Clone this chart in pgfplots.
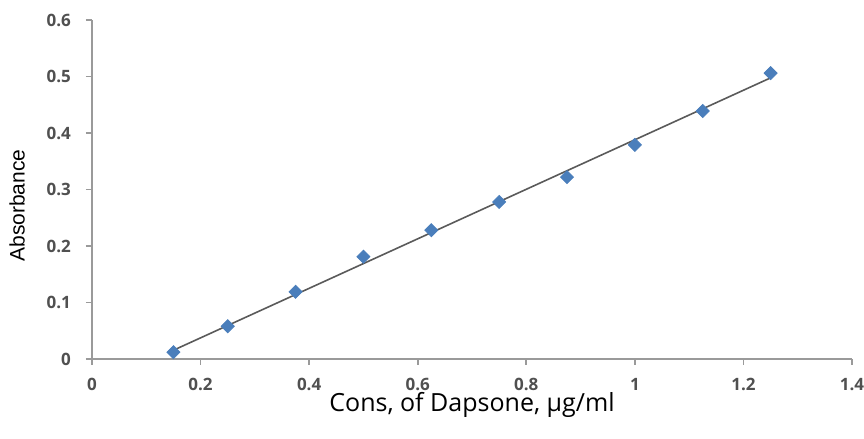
\documentclass[border=0pt]{standalone}
\usepackage{fontspec}
\setmainfont{Open Sans}
\newfontfamily\arialfont{Liberation Sans}
\usepackage{pgfplots}
\pgfplotsset{compat=1.18}

\definecolor{markblue}{HTML}{4A7EBB}
\definecolor{trendgray}{HTML}{5A5A5A}
\definecolor{axgray}{HTML}{9A9A9A}
\definecolor{labgray}{HTML}{505050}

\begin{document}
\begin{tikzpicture}
    % frame the page like the 864x439 reference (1px = 0.5pt)
    \path[use as bounding box] (-46pt,-40pt) rectangle (386pt,179.5pt);
    \begin{axis}[
        at={(0,0)}, anchor=south west,
        scale only axis,
        width=380pt,
        height=169.5pt,
        xmin=0, xmax=1.4,
        ymin=0, ymax=0.6,
        xtick={0,0.2,...,1.4},
        ytick={0,0.1,...,0.6},
        axis x line=bottom,
        axis y line=left,
        axis line style={-, axgray, line width=0.9pt},
        tick style={axgray, line width=0.9pt},
        tick align=outside,
        major tick length=3pt,
        tick label style={font=\fontsize{8.5}{9}\selectfont\bfseries, text=labgray},
        /pgf/number format/assume math mode=true,
        /pgf/number format/fixed,
        xticklabel style={yshift=-3pt},
        yticklabel style={xshift=-4pt},
        xlabel={Cons, of Dapsone, µg/ml},
        xlabel style={font=\fontsize{12.5}{14}\selectfont, yshift=6pt},
        ylabel={\arialfont Absorbance},
        ylabel style={font=\fontsize{10.5}{12}\selectfont, yshift=4pt, xshift=-8pt},
        clip=false,
    ]

    % trend line (least squares fit)
    \addplot[trendgray, line width=0.8pt] coordinates {
        (0.15,0.0155)
        (1.25,0.4976)
    };

    % measured points
    \addplot[only marks, mark=square*, mark size=2.3pt,
             mark options={fill=markblue, draw=markblue, rotate=45}] coordinates {
        (0.15,0.012)
        (0.25,0.058)
        (0.375,0.119)
        (0.5,0.181)
        (0.625,0.228)
        (0.75,0.278)
        (0.875,0.322)
        (1.0,0.379)
        (1.125,0.439)
        (1.25,0.506)
    };

    \end{axis}
\end{tikzpicture}
\end{document}
